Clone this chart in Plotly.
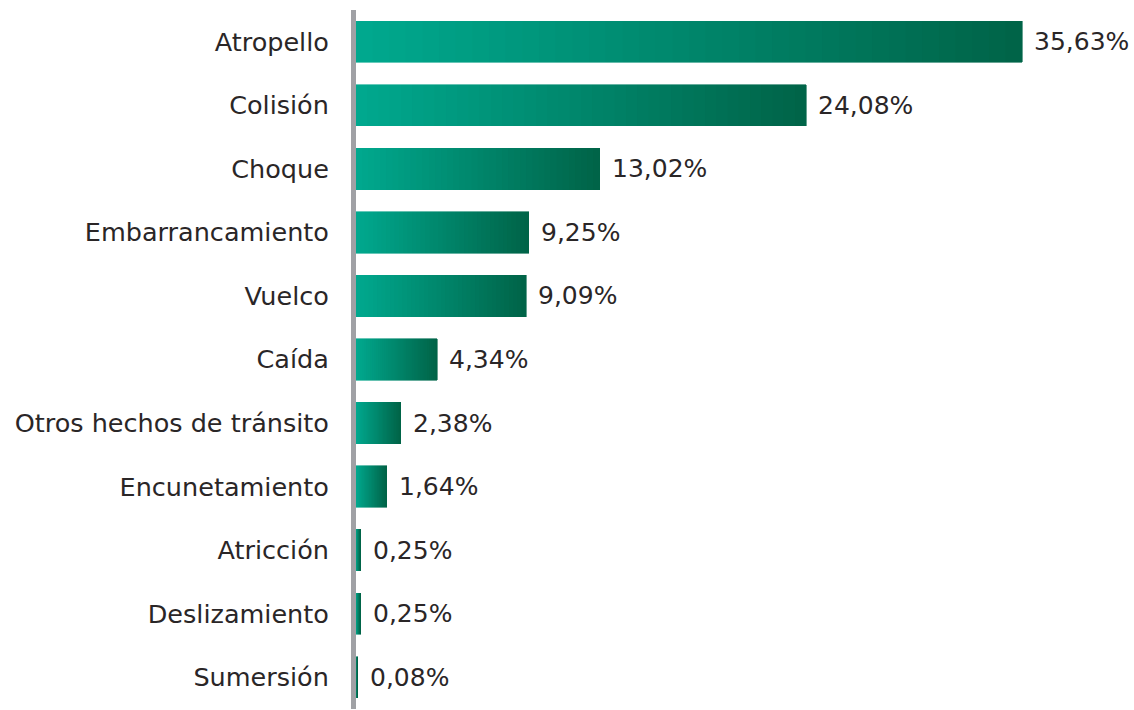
import plotly.graph_objects as go

categories = ["Atropello", "Colisión", "Choque", "Embarrancamiento", "Vuelco", "Caída",
              "Otros hechos de tránsito", "Encunetamiento", "Atricción", "Deslizamiento", "Sumersión"]
values = [35.63, 24.08, 13.02, 9.25, 9.09, 4.34, 2.38, 1.64, 0.25, 0.25, 0.08]
value_labels = ["35,63%", "24,08%", "13,02%", "9,25%", "9,09%", "4,34%", "2,38%", "1,64%", "0,25%", "0,25%", "0,08%"]

c_start = (0, 168, 142)
c_end = (0, 100, 72)
N = 40
FONT = "DejaVu Sans"

fig = go.Figure()
for i in range(N):
    t = i / (N - 1)
    col = tuple(round(a + (b - a) * t) for a, b in zip(c_start, c_end))
    rgb = "rgb(%d,%d,%d)" % col
    fig.add_trace(go.Bar(
        y=categories, x=[v / N for v in values], orientation="h",
        marker=dict(color=rgb, line=dict(color=rgb, width=0.6)),
        showlegend=False, hoverinfo="skip",
    ))

for c, v, lab in zip(categories, values, value_labels):
    fig.add_annotation(x=v, y=c, text=lab, showarrow=False, xanchor="left",
                       xshift=10, font=dict(size=25, color="#2a2627", family=FONT))

fig.update_layout(
    width=1134, height=710, barmode="stack", bargap=0.35,
    margin=dict(l=356, r=0, t=10, b=1, autoexpand=False),
    plot_bgcolor="white", paper_bgcolor="white",
    xaxis=dict(range=[0, 41.6], visible=False, automargin=False),
    yaxis=dict(autorange="reversed", showline=True, linecolor="#a0a1a5", linewidth=5,
               ticks="", ticklabelstandoff=17, showgrid=False, zeroline=False, automargin=False,
               tickfont=dict(size=25.5, color="#2a2627", family=FONT)),
)
fig.write_html("out.html", config={"displayModeBar": False},
               post_script="document.body.style.margin='0';")
